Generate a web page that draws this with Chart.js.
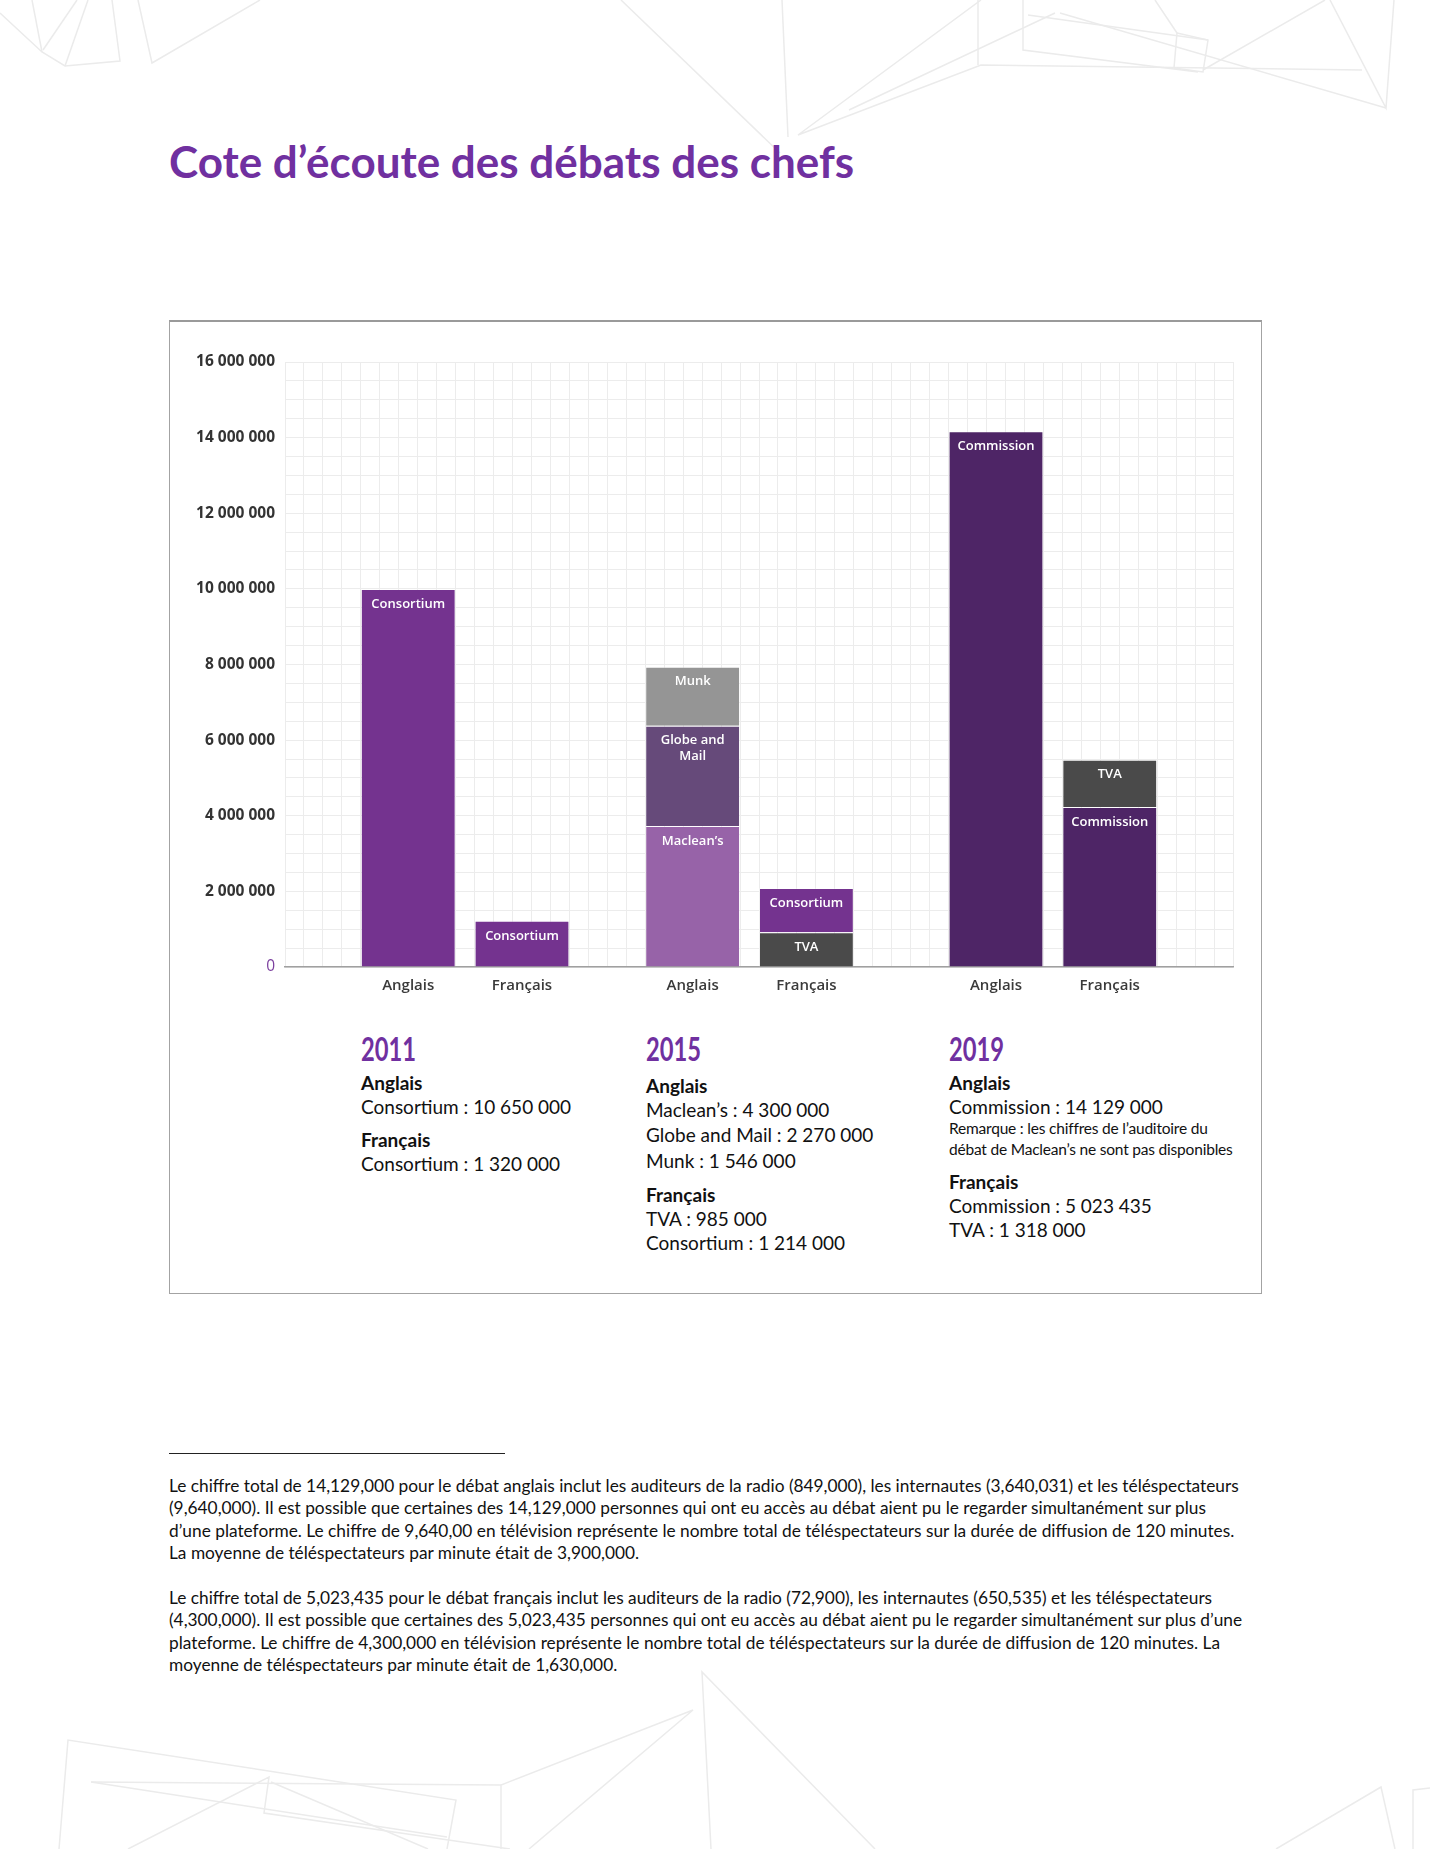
<!DOCTYPE html>
<html lang="fr">
<head>
<meta charset="utf-8">
<title>Cote d’écoute des débats des chefs</title>
<script src="https://cdn.jsdelivr.net/npm/chart.js@4.4.1/dist/chart.umd.min.js"></script>
<style>
  html, body { margin: 0; padding: 0; background: #fff; }
  body { width: 1430px; height: 1849px; position: relative; overflow: hidden; font-family: Lato, "Open Sans", sans-serif; color: #111; }
  #deco { position: absolute; left: 0; top: 0; }
  h1 { position: absolute; left: 169px; top: 135px; margin: 0; font-size: 44px; line-height: 52px; font-weight: 700; color: #7030a0; }
  .frame { position: absolute; left: 169px; top: 320px; width: 1093px; height: 974px; box-sizing: border-box; border: 1px solid #a3a3a3; border-top: 2px solid #9a9a9a; background: #fff; }
  .chartbox { position: absolute; left: 180px; top: 330px; width: 1070px; height: 680px; }
  .year { position: absolute; top: 1028px; }
  .year .yr { display: inline-block; font-size: 33px; line-height: 40px; font-weight: 700; color: #7030a0; transform: scaleX(0.72); transform-origin: left center; }
  .year .lang { font-size: 19px; line-height: 24px; font-weight: 700; margin-top: 3px; }
  .year .lang.next { margin-top: 9px; }
  .year .val { font-size: 19px; line-height: 24px; font-weight: 400; white-space: nowrap; }
  .year .note { font-size: 15.5px; line-height: 23px; margin-top: -2px; white-space: nowrap; letter-spacing: -0.2px; }
  .rule { position: absolute; left: 169px; top: 1453px; width: 336px; height: 0; border-top: 1.5px solid #222; }
  .notes { position: absolute; left: 169px; top: 1475px; font-size: 17.3px; line-height: 22.4px; color: #111; white-space: nowrap; }
  .notes p { margin: 0 0 22.4px 0; }
</style>
</head>
<body>
<svg id="deco" width="1430" height="1849" fill="none" stroke="#ebebeb" stroke-width="1.5">
  <polyline points="0,13 42,52 65,66 120,61 112,0"/>
  <line x1="32" y1="0" x2="42" y2="52"/>
  <line x1="43" y1="50" x2="77" y2="0"/>
  <line x1="65" y1="66" x2="88" y2="0"/>
  <polyline points="138,0 152,63 260,0"/>
  <line x1="621" y1="0" x2="780" y2="153"/>
  <line x1="782" y1="0" x2="788" y2="137"/>
  <polyline points="981,0 798,135 981,65 1362,70"/>
  <line x1="978" y1="0" x2="978" y2="65"/>
  <line x1="849" y1="110" x2="1055" y2="13"/>
  <polyline points="1023,0 1023,50 1198,72"/>
  <line x1="1060" y1="13" x2="1386" y2="108"/>
  <line x1="1028" y1="15" x2="1208" y2="40"/>
  <polygon points="1177,33 1208,40 1203,72 1174,68"/>
  <line x1="1155" y1="0" x2="1177" y2="33"/>
  <line x1="1325" y1="0" x2="1203" y2="70"/>
  <polyline points="1330,0 1386,108 1394,0"/>
  <polyline points="711,1849 702,1672 875,1849"/>
  <polyline points="529,1849 693,1710 501,1785 501,1849"/>
  <polyline points="59,1849 68,1740 456,1800 447,1849"/>
  <polyline points="91,1782 501,1785"/>
  <polyline points="91,1782 447,1837"/>
  <polyline points="128,1849 269,1777 264,1813 510,1849"/>
  <line x1="271" y1="1782" x2="428" y2="1849"/>
  <polyline points="1276,1849 1381,1787 1395,1849"/>
  <polyline points="1430,1788 1413,1790 1413,1849"/>
</svg>

<h1>Cote d’écoute des débats des chefs</h1>

<div class="frame"></div>
<div class="chartbox"><canvas id="debats"></canvas></div>

<div class="year" style="left:361px">
  <div class="yr">2011</div>
  <div class="lang">Anglais</div>
  <div class="val">Consortium : 10 650 000</div>
  <div class="lang next">Français</div>
  <div class="val">Consortium : 1 320 000</div>
</div>
<div class="year" style="left:646px">
  <div class="yr">2015</div>
  <div class="lang" style="margin-top:6px">Anglais</div>
  <div class="val">Maclean’s : 4 300 000</div>
  <div class="val" style="line-height:26px">Globe and Mail : 2 270 000</div>
  <div class="val" style="line-height:26px">Munk : 1 546 000</div>
  <div class="lang next">Français</div>
  <div class="val">TVA : 985 000</div>
  <div class="val">Consortium : 1 214 000</div>
</div>
<div class="year" style="left:949px">
  <div class="yr">2019</div>
  <div class="lang">Anglais</div>
  <div class="val">Commission : 14 129 000</div>
  <div class="note">Remarque : les chiffres de l’auditoire du</div>
  <div class="note">débat de Maclean’s ne sont pas disponibles</div>
  <div class="lang next">Français</div>
  <div class="val">Commission : 5 023 435</div>
  <div class="val">TVA : 1 318 000</div>
</div>

<div class="rule"></div>
<div class="notes">
  <p>Le chiffre total de 14,129,000 pour le débat anglais inclut les auditeurs de la radio (849,000), les internautes (3,640,031) et les téléspectateurs<br>
  (9,640,000). Il est possible que certaines des 14,129,000 personnes qui ont eu accès au débat aient pu le regarder simultanément sur plus<br>
  d’une plateforme. Le chiffre de 9,640,00 en télévision représente le nombre total de téléspectateurs sur la durée de diffusion de 120 minutes.<br>
  La moyenne de téléspectateurs par minute était de 3,900,000.</p>
  <p>Le chiffre total de 5,023,435 pour le débat français inclut les auditeurs de la radio (72,900), les internautes (650,535) et les téléspectateurs<br>
  (4,300,000). Il est possible que certaines des 5,023,435 personnes qui ont eu accès au débat aient pu le regarder simultanément sur plus d’une<br>
  plateforme. Le chiffre de 4,300,000 en télévision représente le nombre total de téléspectateurs sur la durée de diffusion de 120 minutes. La<br>
  moyenne de téléspectateurs par minute était de 1,630,000.</p>
</div>

<script>
// bars, left to right (2011, 2015, 2019 ; Anglais / Français)
const categories = ["Anglais", "Français", "Anglais", "Français", "Anglais", "Français"];

// stacked segments, bottom to top
const baseValues = [10000000, 1220000, 3730000, 920000, 14170000, 4230000];
const midValues = [null, null, 2650000, 1170000, null, 1250000];
const topValues = [null, null, 1560000, null, null, null];

const baseNames = ["Consortium", "Consortium", "Maclean’s", "TVA", "Commission", "Commission"];
const midNames = ["", "", "Globe and Mail", "Consortium", "", "TVA"];
const topNames = ["", "", "Munk", "", "", ""];

const yMax = 16000000;
const yLabelStep = 2000000;
const yGridStep = 500000;

// layout: the x axis is a grid of narrow columns, each bar sits on one of them
const slotCount = 50;
const barSlots = [6, 12, 21, 27, 37, 43];

const purple = "#74338f";
const deepPurple = "#4e2566";
const darkGrey = "#4a4a4a";
const baseColors = [purple, purple, "#9763a8", darkGrey, deepPurple, deepPurple];
const midColors = [null, null, "#664a7a", purple, null, darkGrey];
const topColors = [null, null, "#959595", null, null, null];

function toSlots(arr, empty) {
  const out = new Array(slotCount).fill(empty);
  barSlots.forEach((s, i) => { out[s] = arr[i]; });
  return out;
}

function fmt(v) {
  return String(v).replace(/\B(?=(\d{3})+(?!\d))/g, " ");
}

const barLabels = {
  id: "barLabels",
  afterDatasetsDraw(chart) {
    const ctx = chart.ctx;
    ctx.save();
    ctx.fillStyle = "#ffffff";
    ctx.textAlign = "center";
    ctx.textBaseline = "middle";
    ctx.font = "600 13px 'Open Sans', sans-serif";
    chart.data.datasets.forEach((ds, i) => {
      const meta = chart.getDatasetMeta(i);
      meta.data.forEach((bar, j) => {
        const name = ds.names[j];
        if (!name || ds.data[j] == null) return;
        const maxW = bar.width - 14;
        const words = name.split(" ");
        const lines = [];
        let line = "";
        words.forEach(w => {
          const test = line ? line + " " + w : w;
          if (ctx.measureText(test).width > maxW && line) {
            lines.push(line);
            line = w;
          } else {
            line = test;
          }
        });
        lines.push(line);
        lines.forEach((l, k) => ctx.fillText(l, bar.x, bar.y + 15 + k * 15.5));
      });
    });
    ctx.restore();
  }
};

function makeSet(values, names, colors) {
  return {
    data: toSlots(values, null),
    names: toSlots(names, ""),
    backgroundColor: toSlots(colors, null),
    borderColor: "rgba(255,255,255,0.28)",
    borderWidth: 1,
    borderSkipped: "bottom",
    barPercentage: 5,
    categoryPercentage: 1
  };
}

new Chart(document.getElementById("debats"), {
  type: "bar",
  data: {
    labels: toSlots(categories, ""),
    datasets: [
      makeSet(baseValues, baseNames, baseColors),
      makeSet(midValues, midNames, midColors),
      makeSet(topValues, topNames, topColors)
    ]
  },
  options: {
    responsive: true,
    maintainAspectRatio: false,
    animation: false,
    layout: { padding: { top: 32, right: 17, left: 0, bottom: 0 } },
    plugins: {
      legend: { display: false },
      tooltip: { enabled: false }
    },
    scales: {
      x: {
        stacked: true,
        grid: { color: "#ececec", lineWidth: 1, drawTicks: false },
        border: { color: "#a0a0a0", width: 1.5 },
        ticks: {
          autoSkip: false,
          maxRotation: 0,
          padding: 10,
          color: "#3a3a3a",
          font: { family: "'Open Sans', sans-serif", size: 15, weight: 600 }
        },
        afterFit(scale) { scale.height = 43; }
      },
      y: {
        stacked: true,
        min: 0,
        max: yMax,
        grid: { color: "#ececec", lineWidth: 1, drawTicks: false },
        border: { display: false },
        ticks: {
          stepSize: yGridStep,
          autoSkip: false,
          padding: 10,
          color: ctx => (ctx.tick && ctx.tick.value === 0 ? "#7b3f9e" : "#333"),
          font: ctx => ({
            family: "'Open Sans', sans-serif",
            size: 15.5,
            weight: ctx.tick && ctx.tick.value === 0 ? 400 : 700
          }),
          callback: v => (v % yLabelStep === 0 ? fmt(v) : "")
        },
        afterFit(scale) { scale.width = 105; }
      }
    }
  },
  plugins: [barLabels]
});
</script>
</body>
</html>
